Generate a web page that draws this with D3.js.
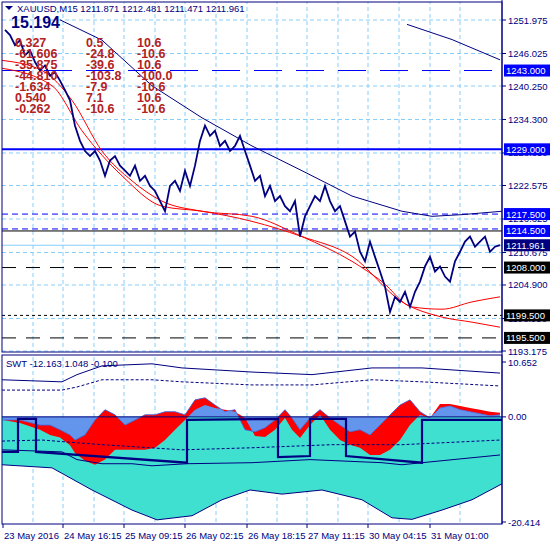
<!DOCTYPE html>
<html><head><meta charset="utf-8">
<script src="https://cdn.jsdelivr.net/npm/d3@7"></script>
<style>body{margin:0;background:#fff}svg{display:block}text{font-family:"Liberation Sans",Arial,sans-serif}</style>
</head><body><svg id="c" width="550" height="550"></svg>
<script>
// ---------- data ----------
const title = "XAUUSD,M15  1211.871 1212.481 1211.471 1211.961";
const bigValue = "15.194";
const tableCol1 = ["0.327","-61.606","-35.875","-44.810","-1.634","0.540","-0.262"];
const tableCol2 = ["0.5","-24.8","-39.6","-103.8","-7.9","7.1","-10.6"];
const tableCol3 = ["10.6","-10.6","10.6","-100.0","-10.6","10.6","-10.6"];
const priceTicks = [1251.975,1246.025,1240.250,1234.300,1228.350,1222.575,1216.625,1210.675,1204.900,1198.950,1193.175];
const timeLabels = ["23 May 2016","24 May 16:15","25 May 09:15","26 May 02:15","26 May 18:15","27 May 11:15","30 May 04:15","31 May 01:00"];
const timeLabelPos = [1,61,122,183,245,305,366,428];
const gridTimePos = [31,61,92,122,153,183,214,245,275,305,336,366,397,428,458];
const price = [1250.2,1249.3,1247.5,1248.4,1245.7,1246.6,1244.5,1243.0,1243.9,1242.1,1242.7,1241.2,1239.5,1237.7,1233.2,1230.5,1228.7,1227.8,1228.7,1227.0,
1224.3,1227.0,1227.8,1226.1,1225.2,1224.3,1226.1,1223.4,1224.3,1222.5,1221.6,1219.8,1218.0,1222.5,1223.4,1221.6,1225.2,1222.5,1226.1,1230.5,
1233.2,1231.4,1232.3,1229.6,1230.5,1228.7,1229.6,1231.4,1228.7,1226.1,1223.4,1224.3,1220.7,1222.5,1219.8,1220.7,1218.9,1218.0,1219.8,1213.5,
1217.1,1218.9,1220.7,1219.8,1222.5,1219.8,1218.0,1218.9,1216.2,1213.5,1214.4,1210.8,1209.1,1212.6,1209.9,1207.3,1204.6,1200.1,1202.8,1201.9,
1203.7,1201.0,1203.7,1205.5,1208.2,1209.9,1207.3,1208.2,1206.4,1205.5,1209.1,1210.8,1212.6,1213.5,1211.7,1212.6,1213.5,1210.8,1211.7,1212.0];
const maBlueT = [58,100,150,200,250,300,350,400,430,460,500];
const maBlueV = [1252.0,1248.4,1240.3,1234.6,1229.6,1225.2,1220.7,1218.0,1217.1,1217.4,1218.0];
const maBlue2T = [405,450,498];
const maBlue2V = [1251.2,1248.5,1244.9];
const maRed1T = [0,40,70,100,130,160,200,250,300,350,380,410,440,470,498];
const maRed1V = [1244.8,1243.0,1237.7,1228.7,1223.4,1219.8,1218.0,1217.1,1213.5,1209.1,1205.5,1201.0,1200.6,1201.9,1202.8];
const maRed2T = [0,50,80,120,160,200,250,300,350,400,440,470,498];
const maRed2V = [1243.4,1240.3,1232.3,1224.3,1218.9,1218.0,1216.2,1213.5,1210.0,1201.9,1199.2,1198.3,1197.4];
const levels = [
 {v:1243.0, c:"#0000ff", dash:"28,14", w:1.2, box:"#0000ff"},
 {v:1229.0, c:"#0000ff", dash:null, w:2, box:"#0000ff"},
 {v:1217.5, c:"#0000ff", dash:"6,4", w:1, box:"#0000ff"},
 {v:1214.5, c:"#000000", dash:null, w:1, box:"#0000ff"},
 {v:1211.961, c:"#87cefa", dash:null, w:1, box:"#000080"},
 {v:1208.0, c:"#000000", dash:"14,10", w:1, box:"#000000"},
 {v:1199.5, c:"#000000", dash:"3,3", w:1, box:"#000000"},
 {v:1195.5, c:"#000000", dash:"14,10", w:1, box:"#000000"}];
// lower indicator
const oscT = [1,18,38,48,58,68,73,83,93,103,113,123,133,143,153,163,173,183,193,203,213,223,233,243,253,263,273,283,290,298,308,318,328,338,348,358,368,378,388,398,408,418,428,438,448,458,468,478,488,498];
const oscA = [-0.6,-0.6,-1.6,-1.6,-2.5,-3.5,-4.5,-3.5,-0.6,1.4,0.4,-1.6,-0.6,0.4,0.4,1.0,1.0,0.4,3.3,3.7,2.3,1.0,1.4,-2.5,-2.9,-2.1,-0.6,1.4,-0.2,-2.5,-0.2,1.4,-0.2,-1.6,-2.9,-2.5,-3.5,-1.6,0.4,2.3,3.3,1.0,-0.2,1.7,2.1,1.4,1.0,0.6,0.2,0.4];
const oscB = [-0.6,-1.2,-2.5,-3.5,-4.0,-5.5,-7.0,-8.5,-9.3,-8.3,-6.4,-6.4,-6.4,-6.4,-6.0,-4.5,-2.5,-0.6,1.4,2.3,1.7,1.4,1.0,-0.2,-3.7,-3.9,-2.5,-0.2,-2.5,-4.1,-1.6,0.4,-2.5,-4.5,-5.4,-6.0,-7.4,-7.4,-6.4,-4.5,-1.6,0.4,-0.2,2.5,2.5,2.1,1.7,1.4,1.0,0.8];
const bandT = [0,50,90,130,155,190,220,248,280,320,360,390,410,440,470,500];
const bandLow = [-9.3,-9.9,-14.2,-18.1,-20.0,-19.2,-16.1,-14.2,-15.0,-14.2,-16.1,-19.6,-19.9,-18.1,-16.1,-13.0];
const upT = [0,60,75,100,150,180,250,310,370,420,498];
const upSolid = [7.2,6.8,8.2,9.9,10.3,9.5,8.7,8.2,9.5,9.5,8.5];
const upDash = [5.2,5.2,5.8,7.2,7.2,6.8,6.2,6.2,7.2,6.8,6.0];
const midT = [0,40,100,180,250,330,400,498];
const midDash = [-4.7,-4.5,-5.4,-6.4,-6.0,-5.4,-5.4,-4.5];
const lowLineT = [0,60,75,100,130,150,185,250,308,380,400,420,498];
const lowLine = [-6.4,-6.8,-8.3,-9.1,-9.1,-9.5,-9.1,-8.9,-8.3,-8.9,-9.3,-8.9,-7.4];
const stepT = [0,16,16,34,34,185,185,276,276,308,308,344,344,420,420,500];
const stepV = [-6.8,-6.8,-0.4,-0.4,-6.8,-8.9,-0.6,-0.4,-7.8,-7.6,-0.4,-0.4,-7.6,-8.9,-0.6,-0.6];

// ---------- drawing ----------
const svg = d3.select("#c");
const X0=2, X1=502, T0=2, T1=352, L0=355, L1=524;
const xT = d3.scaleLinear().domain([0,500]).range([X0,X1]);
const yP = d3.scaleLinear().domain([1193.175,1251.975]).range([351,20]);
const yO = d3.scaleLinear().domain([-20.414,10.652]).range([522,362]);
const grid="#87cefa", navy="#000080";
svg.append("rect").attr("width",550).attr("height",550).attr("fill","#fff");
function clip(id,y0,y1){svg.append("clipPath").attr("id",id).append("rect").attr("x",X0).attr("y",y0).attr("width",X1-X0).attr("height",y1-y0);}
clip("cp",T0,T1); clip("co",L0,L1);
const gp = svg.append("g").attr("clip-path","url(#cp)");
const go = svg.append("g").attr("clip-path","url(#co)");
gridTimePos.forEach(t=>{[gp,go].forEach(g=>g.append("line").attr("x1",xT(t)).attr("x2",xT(t)).attr("y1",0).attr("y2",550).attr("stroke",grid).attr("stroke-dasharray","4,3"));});
priceTicks.forEach(v=>gp.append("line").attr("x1",X0).attr("x2",X1).attr("y1",yP(v)).attr("y2",yP(v)).attr("stroke",grid).attr("stroke-dasharray","4,3"));
levels.forEach(l=>{const ln=gp.append("line").attr("x1",X0).attr("x2",X1).attr("y1",yP(l.v)).attr("y2",yP(l.v)).attr("stroke",l.c).attr("stroke-width",l.w); if(l.dash) ln.attr("stroke-dasharray",l.dash);});
gp.append("line").attr("x1",X0).attr("x2",X1).attr("y1",yP(1214.5)-2).attr("y2",yP(1214.5)-2).attr("stroke","#0000ff").attr("stroke-dasharray","6,4");
const pl=(T,V,y)=>d3.line().x((d,i)=>xT(T[i])).y(d=>y(d))(V);
gp.append("path").attr("d",pl(maBlueT,maBlueV,yP)).attr("fill","none").attr("stroke",navy);
gp.append("path").attr("d",pl(maBlue2T,maBlue2V,yP)).attr("fill","none").attr("stroke",navy);
gp.append("path").attr("d",d3.line().curve(d3.curveMonotoneX).x((d,i)=>xT(maRed1T[i])).y(d=>yP(d))(maRed1V)).attr("fill","none").attr("stroke","#ff0000");
gp.append("path").attr("d",d3.line().curve(d3.curveMonotoneX).x((d,i)=>xT(maRed2T[i])).y(d=>yP(d))(maRed2V)).attr("fill","none").attr("stroke","#ff0000");
gp.append("path").attr("d",d3.line().x((d,i)=>xT(5*(i+1)-2)).y(d=>yP(d))(price)).attr("fill","none").attr("stroke",navy).attr("stroke-width",1.8);
svg.append("path").attr("d","M5,6 L13,6 L9,10 Z").attr("fill",navy);
svg.append("text").attr("x",17).attr("y",12).attr("font-size",9.5).attr("fill",navy).text(title);
svg.append("text").attr("x",11).attr("y",28).attr("font-size",16).attr("font-weight","bold").attr("fill",navy).text(bigValue);
[[tableCol1,15],[tableCol2,86],[tableCol3,137]].forEach(([col,x])=>col.forEach((s,i)=>svg.append("text").attr("x",x).attr("y",47+i*11).attr("font-size",12.5).attr("font-weight","bold").attr("fill","#b22222").text(s)));
go.append("path").attr("d",d3.area().x((d,i)=>xT(bandT[i])).y0(d=>yO(d)).y1(yO(0))(bandLow)).attr("fill","#40e0d0");
go.append("path").attr("d",pl(bandT,bandLow,yO)).attr("fill","none").attr("stroke",navy);
go.append("path").attr("d",d3.area().x((d,i)=>xT(oscT[i])).y0(yO(0)).y1(d=>yO(d))(oscA)).attr("fill","#6495ed");
go.append("path").attr("d",d3.area().x((d,i)=>xT(oscT[i])).y0((d,i)=>yO(oscA[i])).y1(d=>yO(d))(oscB)).attr("fill","#ff0000");
go.append("path").attr("d",pl(oscT,oscA,yO)).attr("fill","none").attr("stroke","#4169e1").attr("stroke-width",0.8);
go.append("line").attr("x1",X0).attr("x2",X1).attr("y1",yO(0)).attr("y2",yO(0)).attr("stroke",navy);
go.append("path").attr("d",pl(upT,upSolid,yO)).attr("fill","none").attr("stroke",navy);
go.append("path").attr("d",pl(upT,upDash,yO)).attr("fill","none").attr("stroke",navy).attr("stroke-dasharray","3,2");
go.append("path").attr("d",pl(midT,midDash,yO)).attr("fill","none").attr("stroke",navy).attr("stroke-dasharray","3,2");
go.append("path").attr("d",pl(lowLineT,lowLine,yO)).attr("fill","none").attr("stroke",navy);
go.append("path").attr("d",pl(stepT,stepV,yO)).attr("fill","none").attr("stroke",navy).attr("stroke-width",2.2);
svg.append("text").attr("x",6).attr("y",367).attr("font-size",9.5).attr("fill",navy).text("SWT -12.163 1.048 -0.100");
[[T0,T1],[L0,L1]].forEach(([a,b])=>svg.append("rect").attr("x",X0).attr("y",a).attr("width",X1-X0).attr("height",b-a).attr("fill","none").attr("stroke",navy));
svg.append("line").attr("x1",X1).attr("x2",X1).attr("y1",0).attr("y2",L1).attr("stroke",navy);
priceTicks.forEach(v=>{svg.append("line").attr("x1",X1).attr("x2",X1+4).attr("y1",yP(v)).attr("y2",yP(v)).attr("stroke",navy);
 svg.append("text").attr("x",508).attr("y",yP(v)+3.5).attr("font-size",9.5).attr("fill",navy).text(v.toFixed(3));});
levels.forEach(l=>{svg.append("rect").attr("x",X1+2).attr("y",yP(l.v)-6).attr("width",48).attr("height",12).attr("fill",l.box);
 svg.append("text").attr("x",506).attr("y",yP(l.v)+3.5).attr("font-size",9.5).attr("fill","#fff").text(l.v.toFixed(3));});
[[10.652,"10.652"],[0,"0.00"],[-20.414,"-20.414"]].forEach(([v,s])=>{svg.append("line").attr("x1",X1).attr("x2",X1+4).attr("y1",yO(v)).attr("y2",yO(v)).attr("stroke",navy);
 svg.append("text").attr("x",508).attr("y",yO(v)+3.5).attr("font-size",9.5).attr("fill",navy).text(s);});
timeLabelPos.forEach((t,i)=>{svg.append("line").attr("x1",xT(t)).attr("x2",xT(t)).attr("y1",L1).attr("y2",L1+4).attr("stroke",navy);
 svg.append("text").attr("x",xT(t)+1).attr("y",539).attr("font-size",9.5).attr("fill",navy).text(timeLabels[i]);});
</script></body></html>
